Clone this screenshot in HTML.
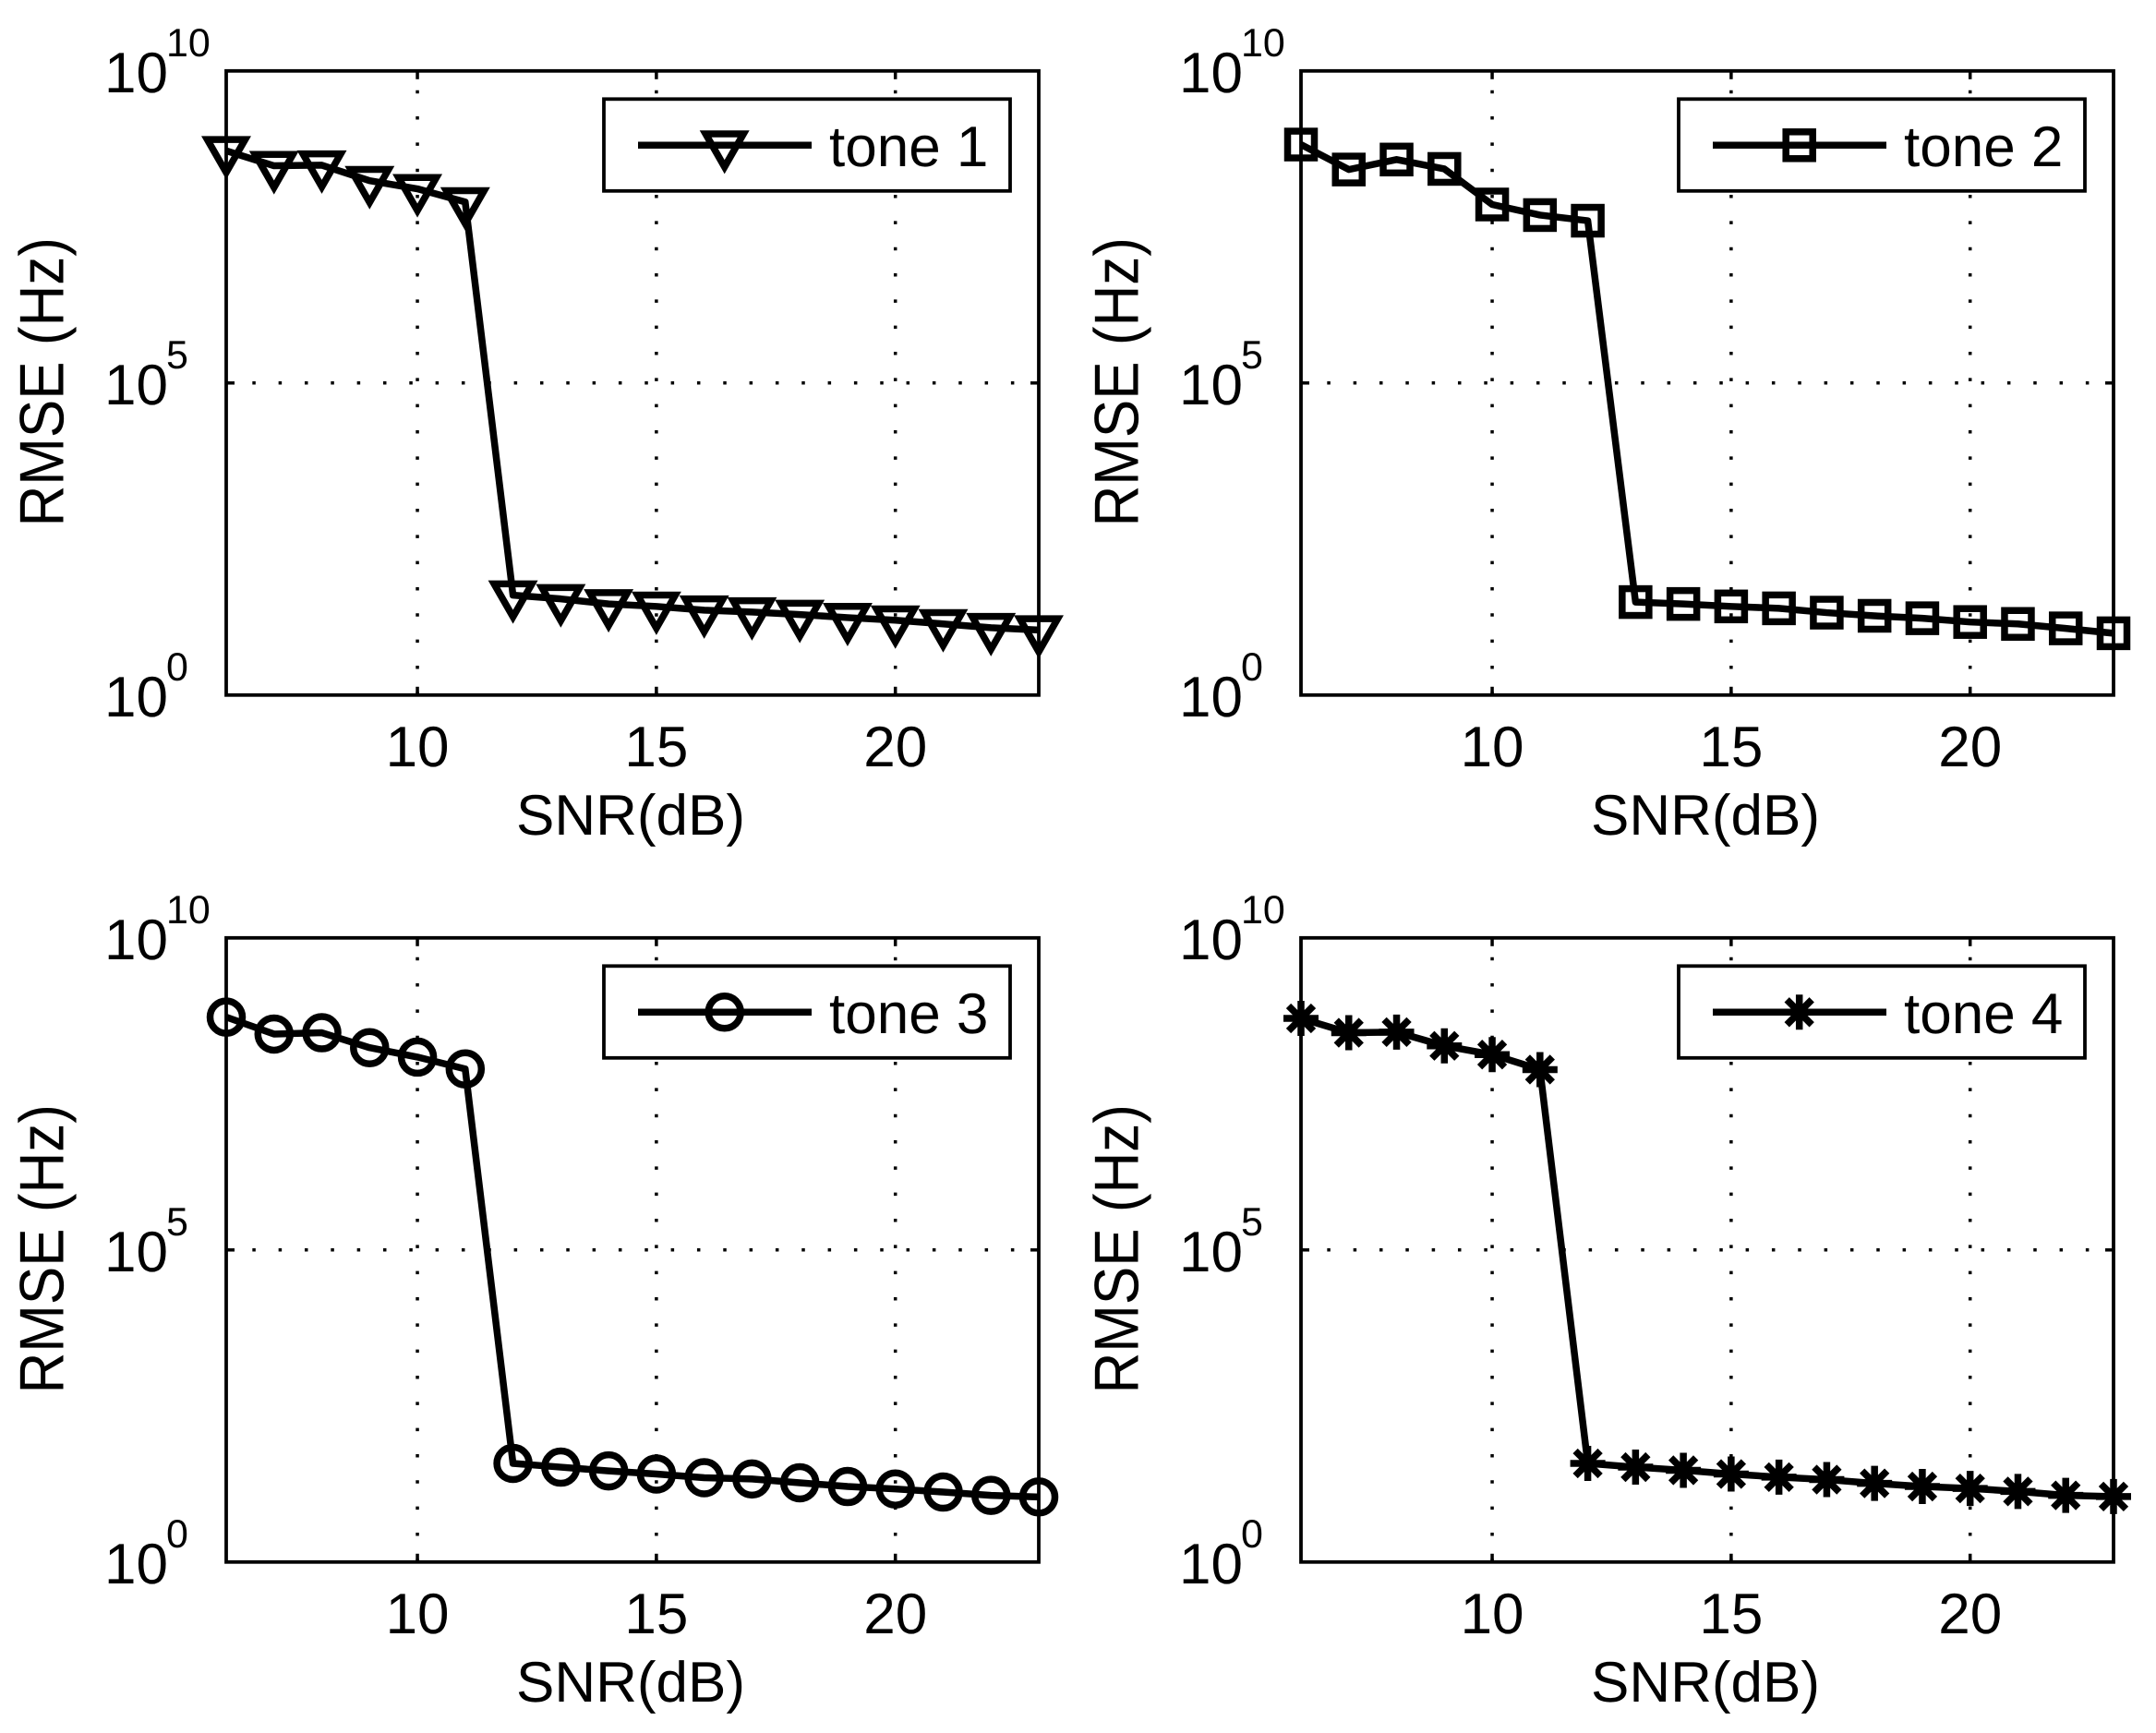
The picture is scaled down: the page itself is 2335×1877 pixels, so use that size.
<!DOCTYPE html>
<html lang="en">
<head>
<meta charset="utf-8">
<title>RMSE vs SNR for four tones</title>
<style>
  html, body { margin: 0; padding: 0; background: #fff; }
  svg { display: block; }
  text { font-family: "Liberation Sans", Arial, sans-serif; fill: #000; text-rendering: geometricPrecision; }
</style>
</head>
<body>
<svg id="figure" xmlns="http://www.w3.org/2000/svg" width="2335" height="1877" viewBox="0 0 2335 1877"></svg>
<script>
// Shared axis data
const snrValues = [6, 7, 8, 9, 10, 11, 12, 13, 14, 15, 16, 17, 18, 19, 20, 21, 22, 23];
const xTickLabels = [10, 15, 20];
const yTickExponents = [0, 5, 10];

// RMSE values in Hz
const tone1Rmse = [5.25e8, 3.02e8, 3.09e8, 1.74e8, 1.29e8, 7.94e7, 39.8, 34.7, 28.8, 26.3, 22.9, 21.4, 19.5, 17.4, 15.8, 13.8, 12.0, 11.0];
const tone2Rmse = [6.61e8, 2.63e8, 3.80e8, 2.69e8, 7.24e7, 4.90e7, 3.98e7, 30.9, 28.8, 26.3, 24.5, 20.9, 18.6, 17.0, 14.8, 13.8, 11.7, 9.77];
const tone3Rmse = [5.37e8, 2.88e8, 3.02e8, 1.74e8, 1.23e8, 7.94e7, 38.0, 33.1, 28.8, 25.7, 22.4, 21.4, 18.6, 16.2, 14.8, 13.2, 11.7, 11.0];
const tone4Rmse = [5.13e8, 3.02e8, 3.09e8, 1.86e8, 1.35e8, 7.76e7, 38.0, 33.1, 29.5, 25.7, 22.9, 20.9, 18.2, 16.2, 15.1, 13.5, 11.7, 11.2];

const xDomain = [6, 23];
const yExponentDomain = [0, 10];
const xAxisTitle = 'SNR(dB)';
const yAxisTitle = 'RMSE (Hz)';
const FONT = 62;
const SUP = 43;
const W = 880;
const H = 676;
const SVGNS = 'http://www.w3.org/2000/svg';
const figure = document.getElementById('figure');

function make(parent, tag, attrs, text) {
  const el = document.createElementNS(SVGNS, tag);
  for (const k in attrs) el.setAttribute(k, attrs[k]);
  if (text !== undefined) el.textContent = text;
  parent.appendChild(el);
  return el;
}

function drawMarker(parent, kind, cx, cy) {
  const g = make(parent, 'g', { fill: 'none', stroke: '#000', 'stroke-width': 7.5 });
  if (kind === 'triangle') {
    make(g, 'path', { d: 'M' + (cx - 20.5) + ' ' + (cy - 12.25) + 'L' + (cx + 20.5) + ' ' + (cy - 12.25) + 'L' + cx + ' ' + (cy + 23.5) + 'Z', 'stroke-linejoin': 'miter', 'stroke-miterlimit': 10 });
  } else if (kind === 'square') {
    make(g, 'rect', { x: cx - 14.5, y: cy - 14.5, width: 29, height: 29 });
  } else if (kind === 'circle') {
    make(g, 'circle', { cx: cx, cy: cy, r: 17.5 });
  } else {
    make(g, 'path', { d: 'M' + (cx - 19) + ' ' + cy + 'H' + (cx + 19) + 'M' + cx + ' ' + (cy - 19) + 'V' + (cy + 19) +
      'M' + (cx - 13.5) + ' ' + (cy - 13.5) + 'L' + (cx + 13.5) + ' ' + (cy + 13.5) +
      'M' + (cx - 13.5) + ' ' + (cy + 13.5) + 'L' + (cx + 13.5) + ' ' + (cy - 13.5) });
  }
  return g;
}

function drawPanel(key, left, top, values, marker, legendText) {
  const right = left + W;
  const bottom = top + H;
  const xScale = v => left + (v - xDomain[0]) / (xDomain[1] - xDomain[0]) * W;
  const yScale = v => bottom - (Math.log10(v) - yExponentDomain[0]) / (yExponentDomain[1] - yExponentDomain[0]) * H;
  const yExpScale = e => bottom - (e - yExponentDomain[0]) / (yExponentDomain[1] - yExponentDomain[0]) * H;

  const panel = make(figure, 'g', {});
  
  

  const grid = make(panel, 'g', { stroke: '#000', 'stroke-width': 3.5, 'stroke-dasharray': '3.5 24.83', fill: 'none' });
  
  

  xTickLabels.forEach(t => {
    const x = xScale(t);
    const gl = make(grid, 'line', { x1: x, y1: bottom, x2: x, y2: top });
    
    
    const tb = make(panel, 'line', { x1: x, y1: bottom, x2: x, y2: bottom - 9, stroke: '#000', 'stroke-width': 3.5 });
    
    
    const tt = make(panel, 'line', { x1: x, y1: top, x2: x, y2: top + 9, stroke: '#000', 'stroke-width': 3.5 });
    
    
    const label = make(panel, 'text', { x: x, y: bottom + 77, 'font-size': FONT, 'text-anchor': 'middle' }, String(t));
    
    
  });

  yTickExponents.forEach(e => {
    const y = yExpScale(e);
    if (e !== yExponentDomain[0] && e !== yExponentDomain[1]) {
      const gl = make(grid, 'line', { x1: left, y1: y, x2: right, y2: y });
      
      
      const tl = make(panel, 'line', { x1: left, y1: y, x2: left + 9, y2: y, stroke: '#000', 'stroke-width': 3.5 });
      
      
      const tr = make(panel, 'line', { x1: right, y1: y, x2: right - 9, y2: y, stroke: '#000', 'stroke-width': 3.5 });
      
      
    }
    const base = make(panel, 'text', { x: left - 132, y: y + 23, 'font-size': FONT }, '10');
    
    
    const sup = make(panel, 'text', { x: left - 65, y: y - 16, 'font-size': SUP }, String(e));
    
    
  });

  const frame = make(panel, 'rect', { x: left, y: top, width: W, height: H, fill: 'none', stroke: '#000', 'stroke-width': 3.8 });
  
  

  const xTitle = make(panel, 'text', { x: left + W / 2 - 2, y: bottom + 151, 'font-size': FONT, 'text-anchor': 'middle' }, xAxisTitle);
  
  

  const yx = left - 176.7;
  const yy = top + H / 2 - 1;
  const yTitle = make(panel, 'text', { x: 0, y: 0, 'font-size': FONT, 'text-anchor': 'middle', transform: 'translate(' + yx + ' ' + yy + ') rotate(-90) scale(1 1.094)' }, yAxisTitle);
  
  

  const pts = snrValues.map((s, i) => xScale(s).toFixed(2) + ',' + yScale(values[i]).toFixed(2)).join(' ');
  const line = make(panel, 'polyline', { points: pts, fill: 'none', stroke: '#000', 'stroke-width': 7.5, 'stroke-linejoin': 'round' });
  
  

  snrValues.forEach((s, i) => {
    const m = drawMarker(panel, marker, xScale(s), yScale(values[i]));
    
    
  });

  const legend = make(panel, 'g', {});
  
  
  const box = make(legend, 'rect', { x: left + 409, y: top + 30.5, width: 440, height: 99.5, fill: '#fff', stroke: '#000', 'stroke-width': 3.8 });
  
  
  const ll = make(legend, 'line', { x1: left + 446, y1: top + 80.5, x2: left + 634, y2: top + 80.5, stroke: '#000', 'stroke-width': 7.5 });
  
  
  const lm = drawMarker(legend, marker, left + 539.7, top + 80.5);
  
  
  const lt = make(legend, 'text', { x: left + 653, y: top + 103, 'font-size': FONT }, legendText);
  
  
}

drawPanel('tone-1', 245, 76.8, tone1Rmse, 'triangle', 'tone 1');
drawPanel('tone-2', 1409, 76.8, tone2Rmse, 'square', 'tone 2');
drawPanel('tone-3', 245, 1015.8, tone3Rmse, 'circle', 'tone 3');
drawPanel('tone-4', 1409, 1015.8, tone4Rmse, 'star', 'tone 4');
</script>
</body>
</html>
